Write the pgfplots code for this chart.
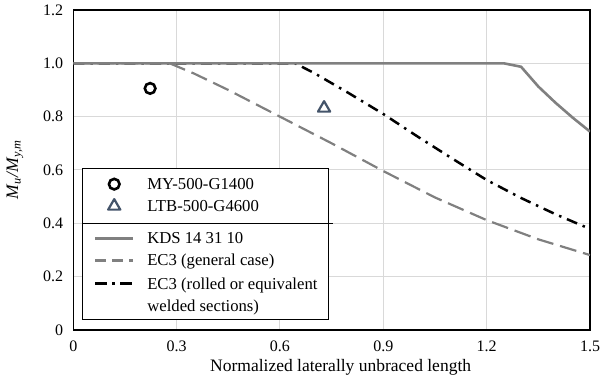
\documentclass[border=0pt]{standalone}
\usepackage{fontspec}
\setmainfont{Liberation Serif}
\usepackage{pgfplots}
\pgfplotsset{compat=1.18}
\definecolor{gridgray}{HTML}{D9D9D9}
\definecolor{linegray}{HTML}{808080}
\definecolor{slate}{HTML}{44546A}
\newcommand{\ls}{\rule[-6pt]{0pt}{22pt}}
\newcommand{\tickfont}{\fontsize{16}{19}\selectfont}
\newcommand{\legfont}{\fontsize{16.7}{20}\selectfont}
\newcommand{\labfont}{\fontsize{17.5}{21}\selectfont}
\pgfplotsset{
  solidleg/.style={legend image code/.code={\draw[##1] (0pt,0pt) -- (38.4pt,0pt);}},
  dashleg/.style={legend image code/.code={\draw[##1, dash pattern=on 11pt off 6pt] (0pt,0pt) -- (38.4pt,0pt);}},
  dotdashleg/.style={legend image code/.code={\draw[##1, dash pattern=on 12pt off 5pt on 3pt off 5pt] (0pt,0pt) -- (38.4pt,0pt);}},
  markleg/.style={legend image code/.code={\path[draw=none, fill=none] (0pt,0pt) -- (38.4pt,0pt); \draw[##1] plot coordinates {(19.2pt,0pt)};}},
  emptyleg/.style={legend image code/.code={\path[draw=none, fill=none] (0pt,0pt) -- (38.4pt,0pt);}},
}
\begin{document}
\begin{tikzpicture}
\begin{axis}[
  scale only axis, width=516.7pt, height=320pt,
  xmin=0, xmax=1.5, ymin=0, ymax=1.2,
  xtick={0,0.3,0.6,0.9,1.2,1.5}, xticklabels={0,0.3,0.6,0.9,1.2,1.5},
  ytick={0,0.2,0.4,0.6,0.8,1.0,1.2}, yticklabels={0,0.2,0.4,0.6,0.8,1.0,1.2},
  /pgf/number format/assume math mode=true,
  major tick length=0pt,
  grid=major, major grid style={gridgray, line width=1pt},
  axis line style={black, line width=1.5pt},
  ticklabel style={font=\tickfont, inner sep=0pt},
  xticklabel style={anchor=base, yshift=-21.7pt},
  yticklabel style={anchor=east, xshift=-10pt},
  xlabel={Normalized laterally unbraced length},
  xlabel style={at={(axis description cs:0.5174,0)}, anchor=base, yshift=-41.7pt, inner sep=0pt, font=\labfont},
  ylabel={\textit{M}\textsubscript{\textit{u}}\textit{/M}\textsubscript{\textit{y,m}}},
  ylabel style={at={(axis description cs:-0.113,0.5)}, anchor=center, inner sep=0pt, font=\labfont},
  legend cell align=left,
  legend style={at={(axis description cs:0.0174,0.03125)}, anchor=south west,
    draw=black, line width=1pt, fill=white,
    inner xsep=11pt, inner ysep=4.4pt, row sep=0pt, column sep=12.6pt,
    nodes={inner sep=0pt, text depth=},
    font=\legfont,
    column 2/.style={anchor=west, text width=177.7pt, align=left}},
]
% curves (drawn without legend, legend images added below)
\addplot[black, line width=2.5pt, dash pattern=on 11pt off 6pt on 2.5pt off 6pt, forget plot]
  coordinates {(0,1) (0.644,1) (0.7,0.963) (0.8,0.888) (0.9,0.81) (1.0,0.725) (1.1,0.643) (1.2,0.5625) (1.3,0.495) (1.4,0.434) (1.5,0.379)};
\addplot[linegray, line width=2.2pt, dash pattern=on 17pt off 7pt, forget plot]
  coordinates {(0,1) (0.28,1) (0.35,0.962) (0.45,0.90) (0.6,0.80) (0.75,0.70) (0.9,0.596) (1.05,0.497) (1.2,0.412) (1.35,0.340) (1.5,0.281)};
\addplot[linegray, line width=2.6pt, forget plot]
  coordinates {(0,1) (1.25,1) (1.30,0.987) (1.35,0.913) (1.40,0.852) (1.45,0.796) (1.50,0.744)};
% test results
\addplot[only marks, black, mark=o, mark size=5.3pt, mark options={line width=2.6pt}, markleg]
  coordinates {(0.223,0.906)};
\addlegendentry{MY-500-G1400\ls}
\addplot[only marks, slate, mark=triangle, mark size=7pt, mark options={line width=2.2pt, line join=round}, markleg]
  coordinates {(0.728,0.832)};
\addlegendentry{LTB-500-G4600\ls}
% spacer row (divider drawn after the axis)
\addlegendimage{emptyleg}
\addlegendentry{\rule[-5.2pt]{0pt}{10.4pt}}
\addlegendimage{linegray, line width=2.2pt, solidleg}
\addlegendentry{KDS 14 31 10\ls}
\addlegendimage{linegray, line width=2.2pt, dashleg}
\addlegendentry{EC3 (general case)\ls}
\addlegendimage{black, line width=2.5pt, dotdashleg}
\addlegendentry{EC3 (rolled or equivalent\rule[-6pt]{0pt}{24pt}}
\addlegendimage{emptyleg}
\addlegendentry{welded sections)\rule[-2pt]{0pt}{18pt}}
\coordinate (dA) at (axis cs:0.0261,0.4);
\coordinate (dB) at (axis cs:0.754,0.4);
\end{axis}
\draw[black, line width=1pt] (dA) -- (dB);
\path (current axis.south west) ++(-73.3pt,-55pt);
\path (current axis.north east) ++(10pt,10pt);
\end{tikzpicture}
\end{document}
